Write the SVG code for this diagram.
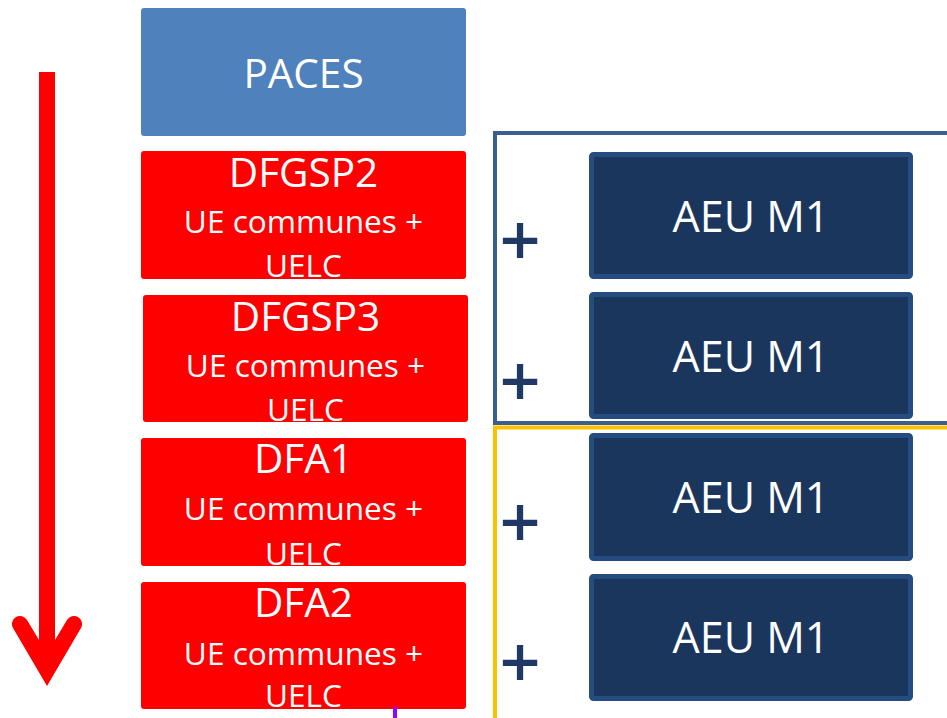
<svg xmlns="http://www.w3.org/2000/svg" width="947" height="718" viewBox="0 0 947 718">
<style>
.t{font-family:"Open Sans","Liberation Sans",sans-serif;fill:#fff;text-anchor:middle}
.h{font-size:40.5px}
.s{font-size:31.6px}
.a{font-size:43px}
.red{fill:#ff0000}
.aeu{fill:#1b365d;stroke:#244c80;stroke-width:5}
.plus{font-family:"Open Sans","Liberation Sans",sans-serif;font-size:72px;font-weight:600;fill:#1f3864;text-anchor:middle}
</style>
<rect width="947" height="718" fill="#fff"/>
<g id="frames">
<rect x="495" y="133" width="500" height="290" fill="none" stroke="#3a5f8f" stroke-width="4"/>
<rect x="495" y="427.5" width="500" height="320" fill="none" stroke="#ffc000" stroke-width="4"/>
</g>
<g id="arrow">
<path d="M47 686 L13 628 A8 8 0 0 1 27 620 L39 640 L39 72 L55 72 L55 640 L67 620 A8 8 0 0 1 81 628 Z" fill="#ff0000"/>
</g>
<g id="paces">
<rect x="141" y="8" width="325" height="128" rx="3" fill="#4f81bd"/>
<text class="t h" x="303.5" y="88">PACES</text>
</g>
<g id="dfgsp2">
<rect class="red" x="141" y="151" width="325" height="128" rx="3"/>
<text class="t h" x="303.5" y="187">DFGSP2</text>
<text class="t s" x="303.5" y="233">UE communes +</text>
<text class="t s" x="303.5" y="277">UELC</text>
</g>
<g id="dfgsp3">
<rect class="red" x="143" y="295" width="325" height="127" rx="3"/>
<text class="t h" x="305.5" y="331">DFGSP3</text>
<text class="t s" x="305.5" y="377">UE communes +</text>
<text class="t s" x="305.5" y="421">UELC</text>
</g>
<g id="dfa1">
<rect class="red" x="141" y="438" width="325" height="128" rx="3"/>
<text class="t h" x="303.5" y="473">DFA1</text>
<text class="t s" x="303.5" y="520">UE communes +</text>
<text class="t s" x="303.5" y="565">UELC</text>
</g>
<g id="dfa2">
<rect class="red" x="141" y="582" width="325" height="127" rx="3"/>
<text class="t h" x="303.5" y="617">DFA2</text>
<text class="t s" x="303.5" y="665">UE communes +</text>
<text class="t s" x="303.5" y="707">UELC</text>
</g>
<g id="aeu1">
<rect class="aeu" x="591.5" y="154.5" width="319" height="122" rx="2"/>
<text class="t a" x="751" y="232">AEU M1</text>
</g>
<g id="aeu2">
<rect class="aeu" x="591.5" y="294.5" width="319" height="122" rx="2"/>
<text class="t a" x="751" y="372">AEU M1</text>
</g>
<g id="aeu3">
<rect class="aeu" x="591.5" y="435.5" width="319" height="123" rx="2"/>
<text class="t a" x="751" y="513">AEU M1</text>
</g>
<g id="aeu4">
<rect class="aeu" x="591.5" y="576.5" width="319" height="122" rx="2"/>
<text class="t a" x="751" y="653">AEU M1</text>
</g>
<g id="plus">
<text class="plus" x="520" y="266">+</text>
<text class="plus" x="520" y="407">+</text>
<text class="plus" x="520" y="548">+</text>
<text class="plus" x="520" y="688">+</text>
</g>
<rect x="393" y="707" width="4" height="11" fill="#9900ff"/>
</svg>
